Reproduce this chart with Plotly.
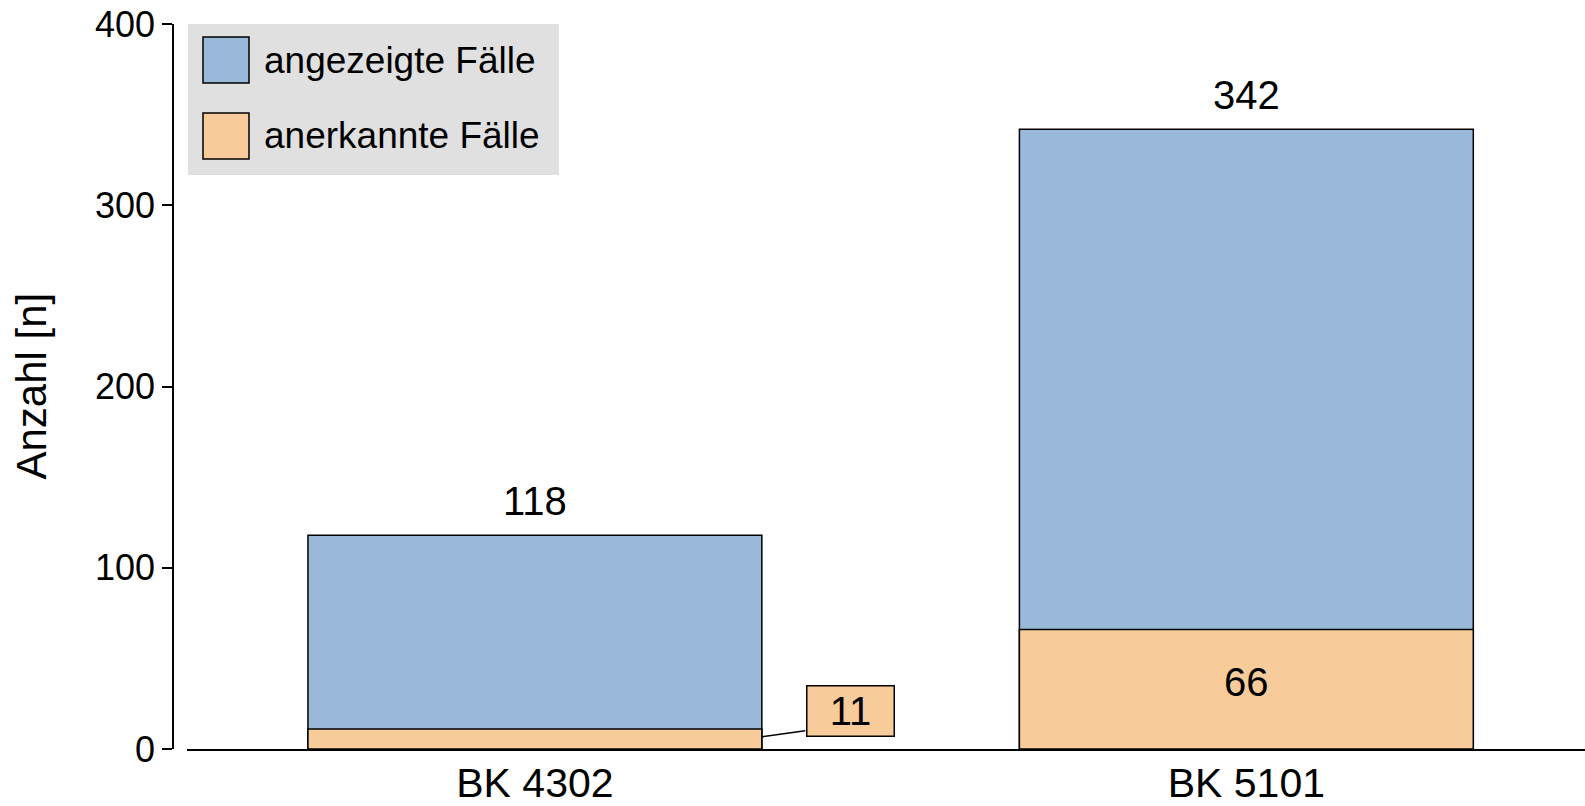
import plotly.graph_objects as go

categories = ["BK 4302", "BK 5101"]
angezeigt = [118, 342]
anerkannt = [11, 66]
series_names = ["angezeigte Fälle", "anerkannte Fälle"]
y_ticks = [0, 100, 200, 300, 400]

BLUE = "#9AB8DA"
ORANGE = "#F8CB9A"
FONT = "Liberation Sans, Arial, sans-serif"

W, H = 1585, 806
ML, MR, MT, MB = 173, 0, 24, 57
PW = W - ML - MR
PH = H - MT - MB
BAR_W = 0.638

fig = go.Figure()
fig.add_trace(go.Bar(x=categories, y=angezeigt, name=series_names[0], width=BAR_W,
                     marker=dict(color=BLUE, line=dict(color="black", width=1.5)),
                     showlegend=False))
fig.add_trace(go.Bar(x=categories, y=anerkannt, name=series_names[1], width=BAR_W,
                     marker=dict(color=ORANGE, line=dict(color="black", width=1.5)),
                     showlegend=False))

# total labels above bars
for c, v in zip(categories, angezeigt):
    fig.add_annotation(x=c, y=v, text=str(v), showarrow=False, yanchor="middle",
                       yshift=34, font=dict(size=40, color="black", family=FONT))

# label inside the big orange segment
fig.add_annotation(x=categories[1], y=anerkannt[1] / 2, text=str(anerkannt[1]),
                   showarrow=False, yanchor="middle", yshift=7,
                   font=dict(size=40, color="black", family=FONT))

# repelled label for the small orange segment (box + leader segment)
fig.add_annotation(x=0.443, y=21, xref="x", yref="y", text=str(anerkannt[0]),
                   showarrow=False, bgcolor=ORANGE, bordercolor="black",
                   borderwidth=1.5, width=84, height=47, borderpad=1,
                   font=dict(size=40, color="black", family=FONT))
fig.add_shape(type="line", xref="x", yref="y", x0=BAR_W / 2, y0=6.7, x1=0.380, y1=10.1,
              line=dict(color="black", width=1.5))

# manual legend
def px_x(p):
    return (p - ML) / PW

def px_y(p):
    return 1 - (p - MT) / PH

fig.add_shape(type="rect", xref="paper", yref="paper",
              x0=px_x(188), x1=px_x(559), y0=px_y(175), y1=px_y(24),
              fillcolor="#E0E0E0", line=dict(width=0), layer="below")
for i, (name, col) in enumerate(zip(series_names, [BLUE, ORANGE])):
    top = 37 + i * 76
    fig.add_shape(type="rect", xref="paper", yref="paper",
                  x0=px_x(203), x1=px_x(249), y0=px_y(top + 46), y1=px_y(top),
                  fillcolor=col, line=dict(color="black", width=1.5))
    fig.add_annotation(xref="paper", yref="paper", x=px_x(262), y=px_y(top + 23),
                       xanchor="left", yanchor="middle", text=name, showarrow=False,
                       font=dict(size=37, color="black", family=FONT))

# y axis title
fig.add_annotation(xref="paper", yref="paper", x=px_x(31), y=0.5, text="Anzahl [n]",
                   textangle=-90, showarrow=False, xanchor="center", yanchor="middle",
                   font=dict(size=42, color="black", family=FONT))

fig.update_layout(
    width=W, height=H,
    margin=dict(l=ML, r=MR, t=MT, b=MB, autoexpand=False),
    plot_bgcolor="white", paper_bgcolor="white",
    barmode="overlay",
    font=dict(family=FONT, color="black"),
    xaxis=dict(domain=[14 / PW, 1], range=[-0.489, 1.476], showline=True,
               linecolor="black", linewidth=1.5, ticks="", showgrid=False,
               zeroline=False, tickfont=dict(size=41, color="black"),
               ticklabelstandoff=-3, automargin=False),
    yaxis=dict(anchor="free", position=0, range=[0, 400], tickvals=y_ticks,
               showline=True, linecolor="black", linewidth=1.5, ticks="outside",
               ticklen=10, tickwidth=1.5, tickcolor="black", showgrid=False,
               zeroline=False, tickfont=dict(size=36, color="black"),
               automargin=False),
)

fig.write_html("out.html", config={"displayModeBar": False},
               post_script="document.body.style.margin='0px';document.body.style.overflow='hidden';")
